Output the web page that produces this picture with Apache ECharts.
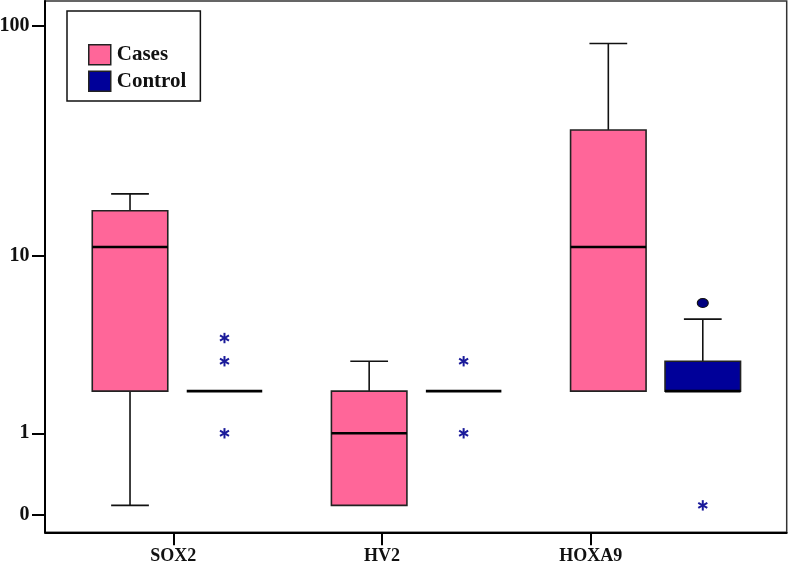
<!DOCTYPE html>
<html><head><meta charset="utf-8">
<script src="https://cdn.jsdelivr.net/npm/echarts@6/dist/echarts.min.js"></script>
<style>html,body{margin:0;padding:0;background:#fff}#c{width:788px;height:564px}</style>
</head><body><div id="c"></div>
<script>
// ---- data ----
const categories = ['SOX2', 'HV2', 'HOXA9'];
const seriesNames = ['Cases', 'Control'];
// five-number summaries per category: [min, q1, median, q3, max]
const casesStats   = [[0, 2, 11, 16, 19], [0, 0, 1, 2, 3], [2, 2, 11, 36, 84]];
const controlStats = [[2, 2, 2, 2, 2], [2, 2, 2, 2, 2], [2, 2, 2, 3, 5]];
// outliers: [categoryIndex, value]
const controlExtremes = [[0, 4], [0, 3], [0, 1], [1, 3], [1, 1], [2, 0]]; // '*'
const controlOutliers = [[2, 6]];                                          // 'o'
const yTickValues = [0, 1, 10, 100];

// ---- scale / layout ----
const tf = v => Math.log10(v + 1);
const ZERO_TICK_SHIFT = -0.0403;   // the "0" tick sits a little below value 0 in the original
const tickPos = v => v === 0 ? tf(0) + ZERO_TICK_SHIFT : tf(v);
const COLORS = { Cases: '#ff6699', Control: '#000099' };
const BOX_OFFSET = 0.1975, BOX_W = 0.3157;
const FONT = 'Liberation Serif';

function boxRenderer(offset, color) {
  return function (params, api) {
    const xi = api.value(0);
    const cx = api.coord([xi + offset, 0])[0];
    const half = api.size([BOX_W, 0])[0] / 2;
    const cap = half / 2;
    const y = i => api.coord([xi, api.value(i)])[1];
    const yMin = y(1), yQ1 = y(2), yMed = y(3), yQ3 = y(4), yMax = y(5);
    const ls = { stroke: '#111', lineWidth: 1.6 };
    const ch = [];
    if (yMax < yQ3 - 0.5) {
      ch.push({ type: 'line', shape: { x1: cx, y1: yQ3, x2: cx, y2: yMax }, style: ls });
      ch.push({ type: 'line', shape: { x1: cx - cap, y1: yMax, x2: cx + cap, y2: yMax }, style: ls });
    }
    if (yMin > yQ1 + 0.5) {
      ch.push({ type: 'line', shape: { x1: cx, y1: yQ1, x2: cx, y2: yMin }, style: ls });
      ch.push({ type: 'line', shape: { x1: cx - cap, y1: yMin, x2: cx + cap, y2: yMin }, style: ls });
    }
    if (yQ1 - yQ3 > 0.5) {
      ch.push({ type: 'rect', shape: { x: cx - half, y: yQ3, width: 2 * half, height: yQ1 - yQ3 },
        style: { fill: color, stroke: '#222', lineWidth: 1.6 } });
    }
    ch.push({ type: 'line', shape: { x1: cx - half, y1: yMed, x2: cx + half, y2: yMed },
      style: { stroke: '#000', lineWidth: 2.6 } });
    return { type: 'group', children: ch };
  };
}

function starRenderer(offset) {
  return function (params, api) {
    const p = api.coord([api.value(0) + offset, api.value(1)]);
    const r = 5.2;
    const ch = [];
    for (let k = 0; k < 3; k++) {
      const a = Math.PI / 2 + k * Math.PI / 3;
      ch.push({ type: 'line', shape: { x1: p[0] - r * Math.cos(a), y1: p[1] - r * Math.sin(a),
        x2: p[0] + r * Math.cos(a), y2: p[1] + r * Math.sin(a) },
        style: { stroke: '#1a1a9a', lineWidth: 2 } });
    }
    return { type: 'group', children: ch };
  };
}

const toBoxData = stats => stats.map((s, i) => [i].concat(s.map(tf)));

const chart = echarts.init(document.getElementById('c'), null, { renderer: 'canvas' });
chart.setOption({
  animation: false,
  backgroundColor: '#fff',
  textStyle: { fontFamily: FONT },
  grid: { left: 45, right: 1.3, top: 1, bottom: 31.7, show: true, borderColor: '#333', borderWidth: 1.5,
    containLabel: false, outerBoundsMode: 'none' },
  legend: {
    orient: 'vertical', left: 67, top: 11,
    padding: [33, 14, 9, 21],
    itemWidth: 22, itemHeight: 20, itemGap: 5,
    borderColor: '#111', borderWidth: 1.5,
    selectedMode: false,
    icon: 'rect',
    itemStyle: { borderColor: '#222', borderWidth: 1.5 },
    textStyle: { fontFamily: FONT, fontWeight: 'bold', fontSize: 21, color: '#111', padding: [0, 0, 0, 1] },
    data: seriesNames
  },
  xAxis: [
    { type: 'value', min: -0.553, max: 2.5484, show: false },
    {
      type: 'value', min: -0.6148, max: 2.939, position: 'bottom',
      axisLine: { show: true, onZero: false, lineStyle: { color: '#000', width: 2 } },
      axisTick: { show: true, length: 13, lineStyle: { color: '#000', width: 2 }, customValues: [0, 1, 2] },
      axisLabel: { customValues: [0, 1, 2], margin: 15, fontFamily: FONT, fontWeight: 'bold', fontSize: 18, color: '#111',
        formatter: v => categories[Math.round(v)] || '' },
      splitLine: { show: false }
    }
  ],
  yAxis: {
    type: 'value', min: -0.1125, max: 2.1068,
    axisLine: { show: true, onZero: false, lineStyle: { color: '#000', width: 2 } },
    axisTick: { show: true, length: 13, lineStyle: { color: '#000', width: 2 }, customValues: yTickValues.map(tickPos) },
    axisLabel: { customValues: yTickValues.map(tickPos), margin: 15.5, fontFamily: FONT, fontWeight: 'bold', fontSize: 20, color: '#111',
      formatter: v => {
        let best = 0, d = Infinity;
        yTickValues.forEach((t, i) => { const dd = Math.abs(tickPos(t) - v); if (dd < d) { d = dd; best = i; } });
        return String(yTickValues[best]);
      } },
    splitLine: { show: false }
  },
  series: [
    { name: 'Cases', type: 'custom', xAxisIndex: 0, itemStyle: { color: COLORS.Cases },
      renderItem: boxRenderer(-BOX_OFFSET, COLORS.Cases), data: toBoxData(casesStats), z: 2 },
    { name: 'Control', type: 'custom', xAxisIndex: 0, itemStyle: { color: COLORS.Control },
      renderItem: boxRenderer(BOX_OFFSET, COLORS.Control), data: toBoxData(controlStats), z: 2 },
    { name: 'Control extremes', type: 'custom', xAxisIndex: 0,
      renderItem: starRenderer(BOX_OFFSET), data: controlExtremes.map(d => [d[0], tf(d[1])]), z: 3 },
    { name: 'Control outliers', type: 'scatter', xAxisIndex: 0, symbol: 'circle', symbolSize: [11, 9],
      itemStyle: { color: '#000080', borderColor: '#111', borderWidth: 1, opacity: 1 },
      data: controlOutliers.map(d => [d[0] + BOX_OFFSET, tf(d[1])]), z: 3 }
  ]
});
</script>
</body></html>
